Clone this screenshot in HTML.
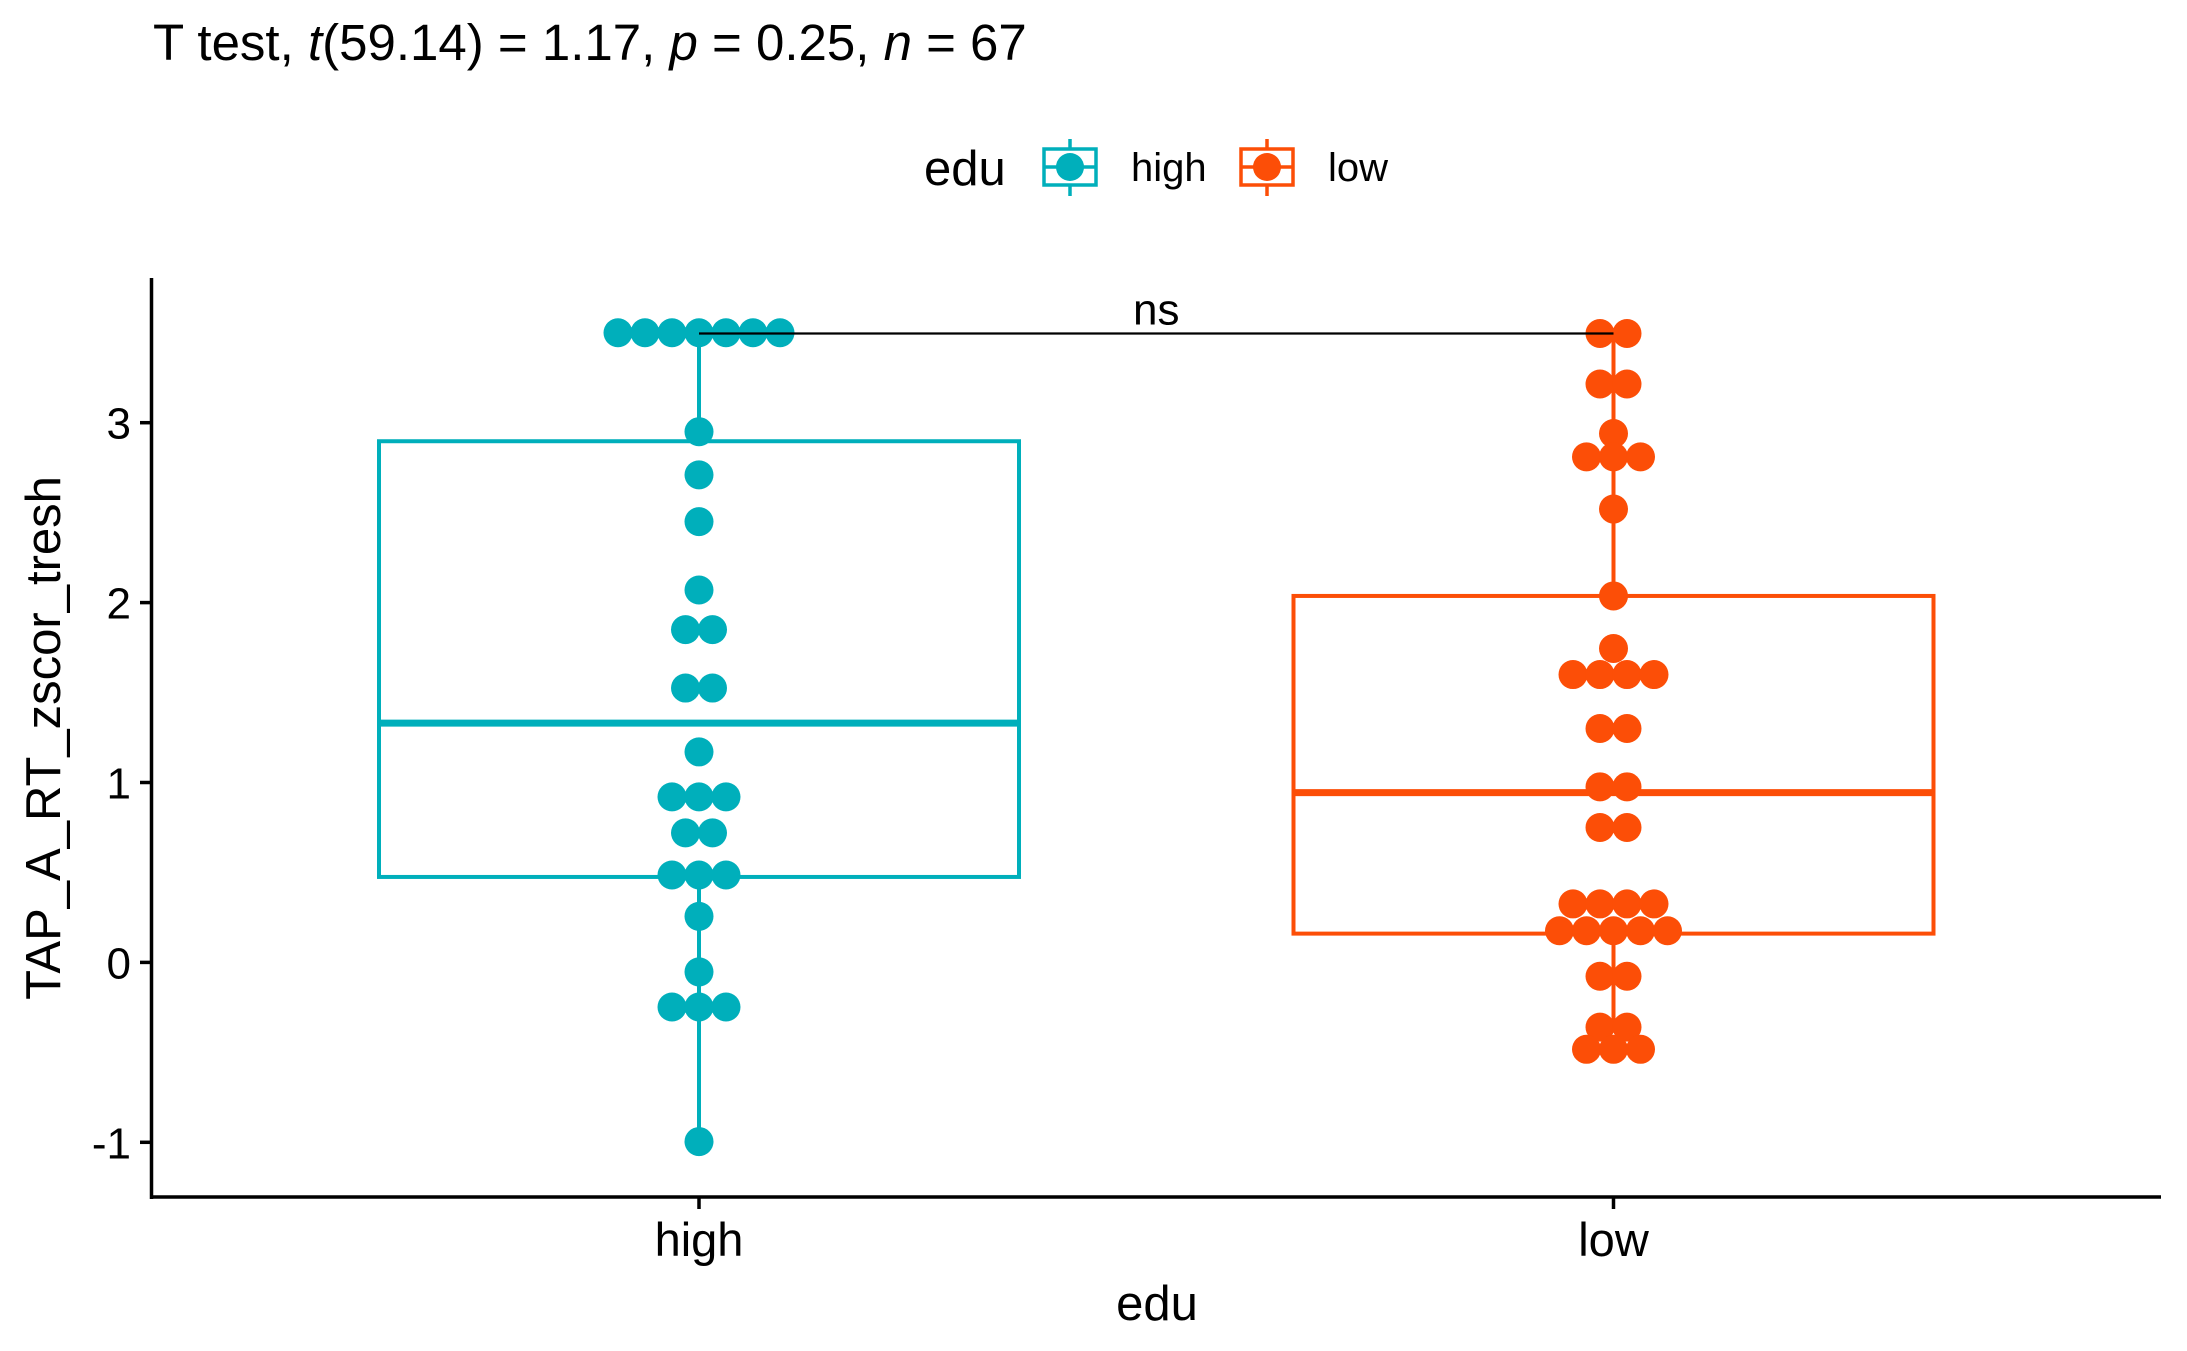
<!DOCTYPE html>
<html><head><meta charset="utf-8"><style>
html,body{margin:0;padding:0;background:#fff}
svg{display:block;font-family:"Liberation Sans",Arial,sans-serif}
</style></head><body>
<svg id="chart" width="2187" height="1351" viewBox="0 0 2187 1351" xmlns="http://www.w3.org/2000/svg">
<text x="153" y="60" font-size="51" fill="#000">T test, <tspan font-style="italic">t</tspan>(59.14) = 1.17, <tspan font-style="italic">p</tspan> = 0.25, <tspan font-style="italic">n</tspan> = 67</text>
<g>
<text x="924" y="185" font-size="49">edu</text>
<g>
<line x1="1070" y1="139" x2="1070" y2="196" stroke="#00AFBB" stroke-width="3.5"/>
<rect x="1044" y="149" width="52" height="36" fill="#fff" stroke="#00AFBB" stroke-width="3.5"/>
<line x1="1044" y1="167" x2="1096" y2="167" stroke="#00AFBB" stroke-width="3.5"/>
<circle cx="1070" cy="167" r="14" fill="#00AFBB"/>
<text x="1131" y="181" font-size="40">high</text></g>
<g>
<line x1="1267" y1="139" x2="1267" y2="196" stroke="#FC4E07" stroke-width="3.5"/>
<rect x="1241" y="149" width="52" height="36" fill="#fff" stroke="#FC4E07" stroke-width="3.5"/>
<line x1="1241" y1="167" x2="1293" y2="167" stroke="#FC4E07" stroke-width="3.5"/>
<circle cx="1267" cy="167" r="14" fill="#FC4E07"/>
<text x="1328" y="181" font-size="40">low</text></g>
</g>
<g id="plot"></g>
<text transform="translate(60,738) rotate(-90)" text-anchor="middle" font-size="49">TAP_A_RT_zscor_tresh</text>
<text x="1157" y="1320" text-anchor="middle" font-size="49">edu</text>
</svg>
<script>
const categories = ["high","low"];
const colors = ["#00AFBB","#FC4E07"];
const highValues = [3.5,3.5,3.5,3.5,3.5,3.5,3.5,2.95,2.71,2.45,2.07,1.85,1.85,1.525,1.525,1.17,0.92,0.92,0.92,0.72,0.72,0.486,0.486,0.486,0.256,-0.053,-0.248,-0.248,-0.248,-0.996];
const lowValues = [3.496,3.496,3.215,3.215,2.94,2.81,2.81,2.81,2.52,2.037,1.745,1.6,1.6,1.6,1.6,1.3,1.3,0.976,0.976,0.75,0.75,0.325,0.325,0.325,0.325,0.176,0.176,0.176,0.176,0.176,-0.077,-0.077,-0.36,-0.36,-0.483,-0.483,-0.483];
const boxStats = [
  {q1:0.475, med:1.33, q3:2.897, lo:-0.996, hi:3.5},
  {q1:0.16, med:0.944, q3:2.037, lo:-0.36, hi:3.496}
];
const yTicks = [-1,0,1,2,3];
const yTickLabels = ["-1","0","1","2","3"];
const bracketY = 3.496;
const bracketLabel = "ns";

const NS="http://www.w3.org/2000/svg";
const plot=document.getElementById('plot');
const y=v=>962.4-179.9*v;
const xc=i=>699+i*914.5;
const halfW=320;
function mk(tag,attrs,parent){const e=document.createElementNS(NS,tag);for(const k in attrs)e.setAttribute(k,attrs[k]);(parent||plot).appendChild(e);return e;}

const ax=mk('g',{});


mk('line',{x1:151.5,y1:278,x2:151.5,y2:1199,stroke:'#000','stroke-width':3.5},ax);
mk('line',{x1:150,y1:1197,x2:2161,y2:1197,stroke:'#000','stroke-width':3.5},ax);
yTicks.forEach((t,i)=>{
  mk('line',{x1:140,y1:y(t),x2:151,y2:y(t),stroke:'#000','stroke-width':3.5},ax);
  const tx=mk('text',{x:131,y:y(t)+16,'text-anchor':'end','font-size':44},ax);
  tx.textContent=yTickLabels[i];
  
  
});
categories.forEach((c,i)=>{
  mk('line',{x1:xc(i),y1:1197,x2:xc(i),y2:1209,stroke:'#000','stroke-width':3.5},ax);
  const tx=mk('text',{x:xc(i),y:1256,'text-anchor':'middle','font-size':47},ax);
  tx.textContent=c;
  
  
});

categories.forEach((c,i)=>{
  const s=boxStats[i],col=colors[i],x=xc(i);
  const g=mk('g',{});
  
  
  mk('line',{x1:x,y1:y(s.hi),x2:x,y2:y(s.q3),stroke:col,'stroke-width':4},g);
  mk('line',{x1:x,y1:y(s.q1),x2:x,y2:y(s.lo),stroke:col,'stroke-width':4},g);
  mk('rect',{x:x-halfW,y:y(s.q3),width:2*halfW,height:y(s.q1)-y(s.q3),fill:'none',stroke:col,'stroke-width':4},g);
  mk('line',{x1:x-halfW,y1:y(s.med),x2:x+halfW,y2:y(s.med),stroke:col,'stroke-width':7},g);
});

[highValues,lowValues].forEach((vals,i)=>{
  const g=mk('g',{});
  
  
  const groups={};
  vals.forEach(v=>{groups[v]=(groups[v]||0)+1;});
  Object.keys(groups).forEach(k=>{
    const n=groups[k];
    for(let j=0;j<n;j++){
      const c=mk('circle',{cx:xc(i)+(j-(n-1)/2)*27,cy:y(+k),r:14.5,fill:colors[i]},g);
      
      
    }
  });
});

const br=mk('g',{});


mk('line',{x1:xc(0),y1:y(bracketY),x2:xc(1),y2:y(bracketY),stroke:'#000','stroke-width':2.2},br);
const ns=mk('text',{x:(xc(0)+xc(1))/2,y:y(bracketY)-9,'text-anchor':'middle','font-size':44},br);
ns.textContent=bracketLabel;
</script>
</body></html>
